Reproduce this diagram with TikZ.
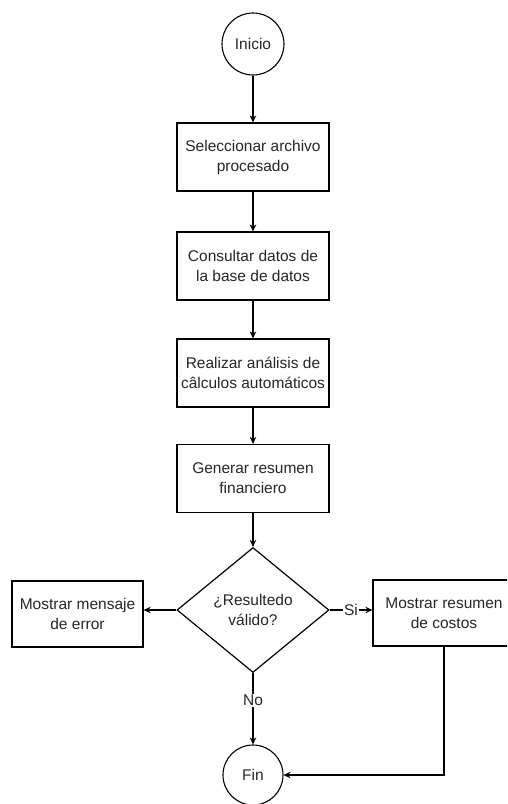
\documentclass[tikz,border=0pt]{standalone}
\usepackage{fontspec}
\setmainfont{Liberation Sans}
\usetikzlibrary{shapes.geometric,arrows.meta}
\begin{document}
\begin{tikzpicture}[x=1pt,y=-1pt,
  every node/.style={font=\fontsize{15.5}{20}\selectfont, text=black!85, align=center},
  stepbox/.style={draw, line width=1.2pt, minimum width=152pt, minimum height=68pt, inner sep=0pt},
  endpoint/.style={draw, circle, line width=1.1pt, minimum size=62pt, inner sep=0pt},
  decision/.style={draw, diamond, line width=1.2pt, minimum width=152pt, minimum height=125pt, inner sep=0pt},
  flow/.style={line width=1.2pt, -{Stealth[length=7pt,width=6.5pt]}},
  tag/.style={fill=white, inner sep=1pt}]
\useasboundingbox (0,0) rectangle (507,804);
\clip (0,0) rectangle (507,804);

\node[endpoint] (inicio) at (253,44) {Inicio};
\node[stepbox] (sel) at (253,157) {Seleccionar archivo\\procesado};
\node[stepbox] (cons) at (253,266) {Consultar datos de\\la base de datos};
\node[stepbox] (anal) at (253,373) {Realizar análisis de\\câlculos automáticos};
\node[stepbox] (gen) at (253,478.5) {Generar resumen\\financiero};
\node[decision] (dec) at (253,610) {¿Resultedo\\válido?};
\node[stepbox, minimum width=131pt, minimum height=66pt] (err) at (77.5,614) {Mostrar mensaje\\de error};
\node[stepbox, minimum width=142pt, minimum height=66pt] (ok) at (444,613) {Mostrar resumen\\de costos};
\node[endpoint, minimum size=60pt] (fin) at (253,775) {Fin};

\draw[flow] (inicio) -- (sel);
\draw[flow] (sel) -- (cons);
\draw[flow] (cons) -- (anal);
\draw[flow] (anal) -- (gen);
\draw[flow] (gen) -- (dec);
\draw[flow] (dec.west) -- (dec.west -| err.east);
\draw[flow] (dec.east) -- node[tag] {Si} (dec.east -| ok.west);
\draw[flow] (dec.south) -- node[tag, pos=0.38] {No} (fin);
\draw[flow] (ok.south) |- (fin.east);
\end{tikzpicture}
\end{document}
